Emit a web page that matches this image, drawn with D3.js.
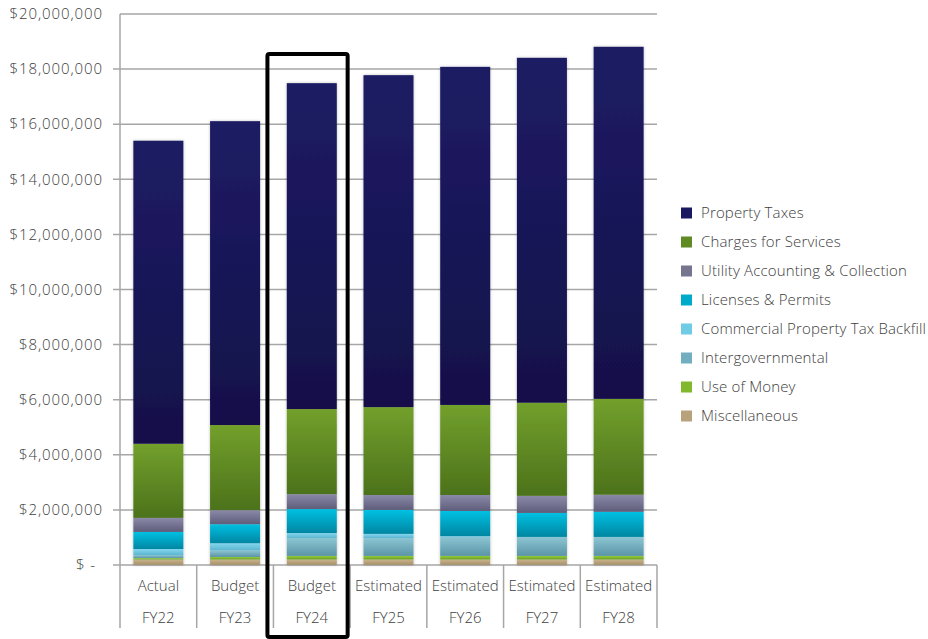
<!DOCTYPE html>
<html><head><meta charset="utf-8">
<script src="https://cdn.jsdelivr.net/npm/d3@7"></script>
<style>
html,body{margin:0;padding:0;background:#fff;}
text{font-family:"Open Sans",Lato,sans-serif;fill:#404040;font-weight:300;}
</style></head>
<body>
<svg id="chart" width="928" height="639"></svg>
<script>
const categories = ["FY22","FY23","FY24","FY25","FY26","FY27","FY28"];
const categoryTypes = ["Actual","Budget","Budget","Estimated","Estimated","Estimated","Estimated"];
const seriesNames = ["Miscellaneous","Use of Money","Intergovernmental","Commercial Property Tax Backfill","Licenses & Permits","Utility Accounting & Collection","Charges for Services","Property Taxes"];
const miscellaneous      = [200000, 200000, 200000, 200000, 200000, 200000, 200000];
const useOfMoney         = [50000, 90000, 130000, 130000, 130000, 130000, 130000];
const intergovernmental  = [110000, 250000, 650000, 650000, 690000, 690000, 690000];
const backfill           = [220000, 250000, 180000, 150000, 30000, 0, 0];
const licensesPermits    = [620000, 690000, 870000, 870000, 910000, 870000, 910000];
const utilityAccounting  = [510000, 510000, 540000, 540000, 580000, 620000, 620000];
const chargesForServices = [2690000, 3090000, 3090000, 3190000, 3270000, 3380000, 3480000];
const propertyTaxes      = [11000000, 11030000, 11830000, 12050000, 12270000, 12520000, 12780000];
const yTicks = [0,2000000,4000000,6000000,8000000,10000000,12000000,14000000,16000000,18000000,20000000];
const highlighted = "FY24";

const seriesValues = [miscellaneous, useOfMoney, intergovernmental, backfill, licensesPermits, utilityAccounting, chargesForServices, propertyTaxes];
const colors = {
  "Property Taxes": ["#1e1c64","#12104a"],
  "Charges for Services": ["#72a02c","#4c721b"],
  "Utility Accounting & Collection": ["#8a89a8","#5e5d7a"],
  "Licenses & Permits": ["#00c0e2","#0086a2"],
  "Commercial Property Tax Backfill": ["#84d6ee","#5cb6d0"],
  "Intergovernmental": ["#8cc6d4","#5b95a6"],
  "Use of Money": ["#94cc3c","#6c9e22"],
  "Miscellaneous": ["#c9b38a","#a6916c"]
};
const legendColors = {
  "Property Taxes":"#1a1860","Charges for Services":"#5f8a24","Utility Accounting & Collection":"#76758f",
  "Licenses & Permits":"#00aacb","Commercial Property Tax Backfill":"#6fcbe6","Intergovernmental":"#72aebf",
  "Use of Money":"#82b82e","Miscellaneous":"#b8a27c"
};

const rows = categories.map((c,i)=>{
  const r = {cat:c};
  seriesNames.forEach((s,j)=>r[s]=seriesValues[j][i]);
  return r;
});

const svg = d3.select("#chart");
const pLeft = 120, pRight = 657, pTop = 14, pBottom = 565;
const x = d3.scaleBand().domain(categories).range([pLeft,pRight]).paddingInner(0).paddingOuter(0);
const y = d3.scaleLinear().domain([0,20000000]).range([pBottom,pTop]);
const barW = 50;

const defs = svg.append("defs");
seriesNames.forEach((s,i)=>{
  const g = defs.append("linearGradient").attr("id","g"+i).attr("x1",0).attr("y1",0).attr("x2",0).attr("y2",1);
  g.append("stop").attr("offset","0%").attr("stop-color",colors[s][0]);
  g.append("stop").attr("offset","100%").attr("stop-color",colors[s][1]);
});
const f = defs.append("filter").attr("id","shadow").attr("x","-20%").attr("y","-5%").attr("width","140%").attr("height","110%");
f.append("feDropShadow").attr("dx",0).attr("dy",0).attr("stdDeviation",1.5).attr("flood-color","#000").attr("flood-opacity",0.25);

// gridlines
const fmt = d => d===0 ? "$ -" : "$" + d3.format(",")(d);
svg.append("g").selectAll("line").data(yTicks).join("line")
  .attr("x1", d=> d===20000000 ? pLeft : pLeft-7).attr("x2", pRight)
  .attr("y1", d=>y(d)).attr("y2", d=>y(d))
  .attr("stroke","#a6a6a6").attr("stroke-width",1.5);
svg.append("g").selectAll("text").data(yTicks).join("text")
  .attr("x",d=> d===0 ? 96 : 103).attr("y",d=>y(d)).attr("dy","0.35em").attr("text-anchor","end")
  .attr("font-size",15).attr("letter-spacing",0.9).text(fmt);

// left axis line
svg.append("line").attr("x1",pLeft).attr("x2",pLeft).attr("y1",pTop).attr("y2",628)
  .attr("stroke","#a6a6a6").attr("stroke-width",1.5);
// category separators
const seps = categories.map(c=>x(c)+x.bandwidth());
svg.append("g").selectAll("line").data(seps).join("line")
  .attr("x1",d=>d).attr("x2",d=>d).attr("y1",pBottom).attr("y2",628)
  .attr("stroke","#a6a6a6").attr("stroke-width",1.5);

// stacked bars
const stack = d3.stack().keys(seriesNames)(rows);
const gBars = svg.append("g").attr("filter","url(#shadow)");
stack.forEach((layer,i)=>{
  gBars.append("g").attr("fill","url(#g"+i+")")
    .selectAll("rect").data(layer).join("rect")
    .attr("x",d=>x(d.data.cat)+(x.bandwidth()-barW)/2)
    .attr("width",barW)
    .attr("y",d=>y(d[1]))
    .attr("height",d=>Math.max(0,y(d[0])-y(d[1])));
});

// category labels
const gl = svg.append("g");
gl.selectAll("text.t").data(categories).join("text").attr("class","t")
  .attr("x",d=>x(d)+x.bandwidth()/2).attr("y",586).attr("dy","0.35em")
  .attr("text-anchor","middle").attr("font-size",15).text((d,i)=>categoryTypes[i]);
gl.selectAll("text.c").data(categories).join("text").attr("class","c")
  .attr("x",d=>x(d)+x.bandwidth()/2).attr("y",618).attr("dy","0.35em")
  .attr("text-anchor","middle").attr("font-size",15).text(d=>d);

// highlight box
svg.append("rect")
  .attr("x",x(highlighted)-6).attr("y",54)
  .attr("width",x.bandwidth()+3.5).attr("height",583)
  .attr("rx",2).attr("fill","none").attr("stroke","#000").attr("stroke-width",4);

// legend
const legendOrder = seriesNames.slice().reverse();
const lg = svg.append("g");
legendOrder.forEach((s,i)=>{
  const yy = 213 + i*29;
  lg.append("rect").attr("x",681).attr("y",yy-5.5).attr("width",11).attr("height",11).attr("fill",legendColors[s]);
  lg.append("text").attr("x",701).attr("y",yy).attr("dy","0.35em").attr("font-size",15).attr("letter-spacing",0.15).text(s);
});
</script>
</body></html>
